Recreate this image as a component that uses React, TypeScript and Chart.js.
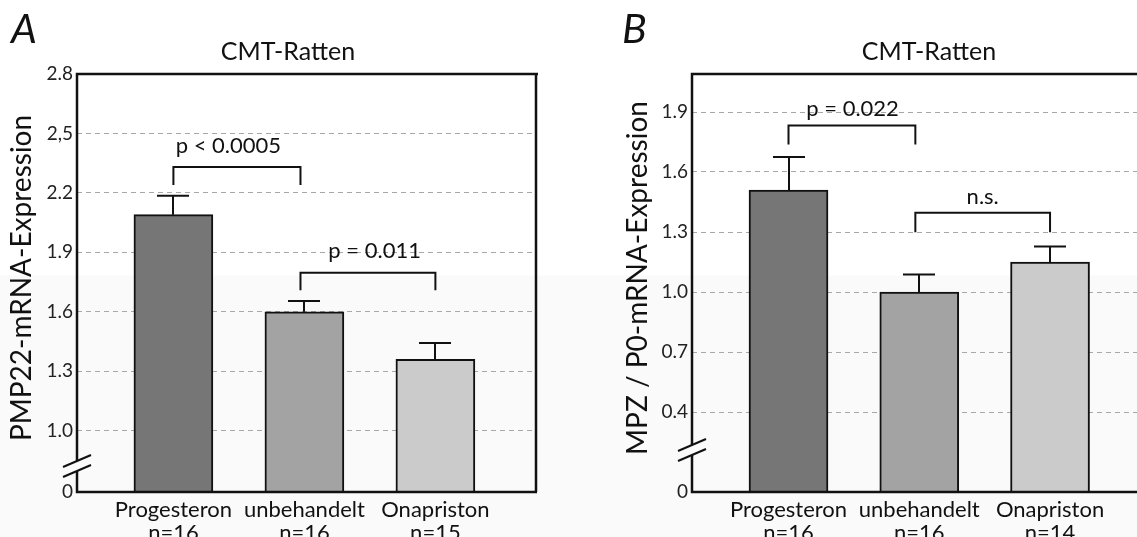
import React, { useEffect, useRef } from 'react';
import { Chart, registerables } from 'chart.js';

Chart.register(...registerables);

// ---------- data ----------
const categoriesA = [['Progesteron', 'n=16'], ['unbehandelt', 'n=16'], ['Onapriston', 'n=15']];
const categoriesB = [['Progesteron', 'n=16'], ['unbehandelt', 'n=16'], ['Onapriston', 'n=14']];

const pmp22Means = [2.09, 1.6, 1.36];
const pmp22Errors = [0.095, 0.054, 0.082];
const mpzMeans = [1.51, 1.0, 1.15];
const mpzErrors = [0.165, 0.088, 0.078];

const barColors = ['#767676', '#a3a3a3', '#cbcbcb'];

// broken axis: the bottom of panel A is labelled "0"
const pmp22AxisMin = 0.69;
const pmp22AxisMax = 2.8;
const pmp22TickValues = [0.69, 1.0, 1.3, 1.6, 1.9, 2.2, 2.5, 2.8];
const pmp22TickLabels = ['0', '1.0', '1.3', '1.6', '1.9', '2.2', '2,5', '2.8'];

const mpzAxisMin = 0;
const mpzAxisMax = 2.09;
const mpzTickValues = [0, 0.4, 0.7, 1.0, 1.3, 1.6, 1.9];
const mpzTickLabels = ['0', '0.4', '0.7', '1.0', '1.3', '1.6', '1.9'];

// significance brackets: from/to in category units, levels in axis units
const pmp22Brackets = [
  { from: 0, to: 0.97, top: 2.33, leg: 2.24, label: 'p < 0.0005', labelX: 0.42, labelY: 2.4 },
  { from: 0.97, to: 2, top: 1.797, leg: 1.709, label: 'p = 0.011', labelX: 1.536, labelY: 1.87 },
];
const mpzBrackets = [
  { from: 0, to: 0.97, top: 1.833, leg: 1.738, label: 'p = 0.022', labelX: 0.49, labelY: 1.878 },
  { from: 0.97, to: 2, top: 1.396, leg: 1.299, label: 'n.s.', labelX: 1.485, labelY: 1.442 },
];

const FONT = 'Lato, "Open Sans", sans-serif';

type PanelCfg = {
  letter: string;
  letterX: number;
  title: string;
  titleX: number;
  yTitle: string;
  yTitleX: number;
  means: number[];
  errors: number[];
  brackets: typeof pmp22Brackets;
  breakOffset: number;
  rightBorder: boolean;
};

function makeDecor(cfg: PanelCfg) {
  return {
    id: 'decor',
    afterDraw(chart: any) {
      const { ctx, chartArea: a } = chart;
      const xs = chart.scales.x;
      const ys = chart.scales.y;
      ctx.save();
      ctx.strokeStyle = '#111';
      ctx.fillStyle = '#111';

      // error bars
      ctx.lineWidth = 2;
      cfg.means.forEach((m, i) => {
        const px = Math.round(xs.getPixelForValue(i));
        const y0 = ys.getPixelForValue(m);
        const y1 = ys.getPixelForValue(m + cfg.errors[i]);
        ctx.beginPath();
        ctx.moveTo(px, y0);
        ctx.lineTo(px, y1);
        ctx.moveTo(px - 16, y1);
        ctx.lineTo(px + 16, y1);
        ctx.stroke();
      });

      // frame with broken left axis
      ctx.lineWidth = 2.5;
      const yc = a.bottom - cfg.breakOffset;
      ctx.beginPath();
      ctx.moveTo(a.left, yc - 5);
      ctx.lineTo(a.left, a.top);
      ctx.lineTo(a.right + 2, a.top);
      if (cfg.rightBorder) {
        ctx.moveTo(a.right, a.top);
        ctx.lineTo(a.right, a.bottom);
      }
      ctx.moveTo(a.left, yc + 5);
      ctx.lineTo(a.left, a.bottom);
      ctx.lineTo(a.right + (cfg.rightBorder ? 1 : 2), a.bottom);
      ctx.stroke();

      // break marks
      ctx.lineWidth = 2;
      [-5, 5].forEach((d) => {
        ctx.beginPath();
        ctx.moveTo(a.left - 14, yc + d + 6);
        ctx.lineTo(a.left + 14, yc + d - 6);
        ctx.stroke();
      });

      // brackets
      ctx.lineWidth = 2;
      ctx.font = `22px ${FONT}`;
      ctx.textAlign = 'center';
      ctx.textBaseline = 'alphabetic';
      cfg.brackets.forEach((b) => {
        const x0 = xs.getPixelForValue(b.from);
        const x1 = xs.getPixelForValue(b.to);
        const yt = ys.getPixelForValue(b.top);
        const yl = ys.getPixelForValue(b.leg);
        ctx.beginPath();
        ctx.moveTo(x0, yl);
        ctx.lineTo(x0, yt);
        ctx.lineTo(x1, yt);
        ctx.lineTo(x1, yl);
        ctx.stroke();
        ctx.fillText(b.label, xs.getPixelForValue(b.labelX), ys.getPixelForValue(b.labelY));
      });

      // panel letter
      ctx.textAlign = 'left';
      ctx.font = `italic 41px ${FONT}`;
      ctx.fillText(cfg.letter, cfg.letterX, 43);

      // title
      ctx.textAlign = 'center';
      ctx.font = `25px ${FONT}`;
      ctx.fillText(cfg.title, cfg.titleX, 60);

      // y-axis title
      ctx.save();
      ctx.translate(cfg.yTitleX, 278);
      ctx.rotate(-Math.PI / 2);
      ctx.textBaseline = 'middle';
      ctx.font = `28px ${FONT}`;
      ctx.fillText(cfg.yTitle, 0, 0);
      ctx.restore();

      ctx.restore();
    },
  };
}

function buildChart(
  canvas: HTMLCanvasElement,
  categories: string[][],
  means: number[],
  yMin: number,
  yMax: number,
  tickValues: number[],
  tickLabels: string[],
  xMin: number,
  xMax: number,
  yAxisWidth: number,
  rightPad: number,
  cfg: PanelCfg
) {
  return new Chart(canvas, {
    type: 'bar',
    data: {
      datasets: [
        {
          data: means.map((m, i) => ({ x: i, y: m })),
          backgroundColor: barColors,
          borderColor: '#111',
          borderWidth: 2,
          barThickness: 79,
        } as any,
      ],
    },
    options: {
      animation: false,
      responsive: false,
      events: [],
      layout: { padding: { top: 74, right: rightPad, bottom: 0, left: 0 } },
      plugins: {
        legend: { display: false },
        tooltip: { enabled: false },
        title: { display: false },
      },
      scales: {
        x: {
          type: 'linear',
          offset: false,
          min: xMin,
          max: xMax,
          grid: { display: false, drawTicks: false, offset: false },
          border: { display: false },
          afterBuildTicks: (s: any) => {
            s.ticks = categories.map((_, i) => ({ value: i }));
          },
          afterFit: (s: any) => {
            s.height = 45;
          },
          ticks: {
            autoSkip: false,
            maxRotation: 0,
            padding: 7,
            color: '#111',
            font: { family: FONT, size: 22, lineHeight: 1.02 },
            callback: (_v: any, i: number) => categories[i],
          },
        },
        y: {
          type: 'linear',
          min: yMin,
          max: yMax,
          afterBuildTicks: (s: any) => {
            s.ticks = tickValues.map((v) => ({ value: v }));
          },
          afterFit: (s: any) => {
            s.width = yAxisWidth;
          },
          grid: {
            drawTicks: false,
            lineWidth: 1,
            color: (c: any) =>
              c.tick && c.tick.value > yMin + 1e-6 && c.tick.value < yMax - 1e-6 ? '#a8a8a8' : 'rgba(0,0,0,0)',
          },
          border: { display: false, dash: [5, 4] },
          ticks: {
            padding: 4,
            color: '#222',
            font: { family: FONT, size: 19 },
            callback: (_v: any, i: number) => tickLabels[i],
          },
        },
      },
    } as any,
    plugins: [makeDecor(cfg)],
  });
}

export default function App() {
  const refA = useRef<HTMLCanvasElement>(null);
  const refB = useRef<HTMLCanvasElement>(null);

  useEffect(() => {
    const chartA = buildChart(
      refA.current!,
      categoriesA,
      pmp22Means,
      pmp22AxisMin,
      pmp22AxisMax,
      pmp22TickValues,
      pmp22TickLabels,
      -0.736,
      2.768,
      77,
      32,
      {
        letter: 'A',
        letterX: 11,
        title: 'CMT-Ratten',
        titleX: 288,
        yTitle: 'PMP22-mRNA-Expression',
        yTitleX: 22,
        means: pmp22Means,
        errors: pmp22Errors,
        brackets: pmp22Brackets,
        breakOffset: 26,
        rightBorder: true,
      }
    );
    const chartB = buildChart(
      refB.current!,
      categoriesB,
      mpzMeans,
      mpzAxisMin,
      mpzAxisMax,
      mpzTickValues,
      mpzTickLabels,
      -0.738,
      2.665,
      124,
      0,
      {
        letter: 'B',
        letterX: 54,
        title: 'CMT-Ratten',
        titleX: 361,
        yTitle: 'MPZ / P0-mRNA-Expression',
        yTitleX: 70,
        means: mpzMeans,
        errors: mpzErrors,
        brackets: mpzBrackets,
        breakOffset: 42,
        rightBorder: false,
      }
    );
    return () => {
      chartA.destroy();
      chartB.destroy();
    };
  }, []);

  return (
    <div
      style={{
        position: 'fixed',
        left: 0,
        top: 0,
        width: 1137,
        height: 537,
        overflow: 'hidden',
        background: 'linear-gradient(to bottom, #ffffff 0px, #ffffff 275px, #fafafa 276px, #fafafa 537px)',
      }}
    >
      <canvas ref={refA} width={568} height={537} style={{ position: 'absolute', left: 0, top: 0 }} />
      <canvas ref={refB} width={569} height={537} style={{ position: 'absolute', left: 568, top: 0 }} />
    </div>
  );
}
